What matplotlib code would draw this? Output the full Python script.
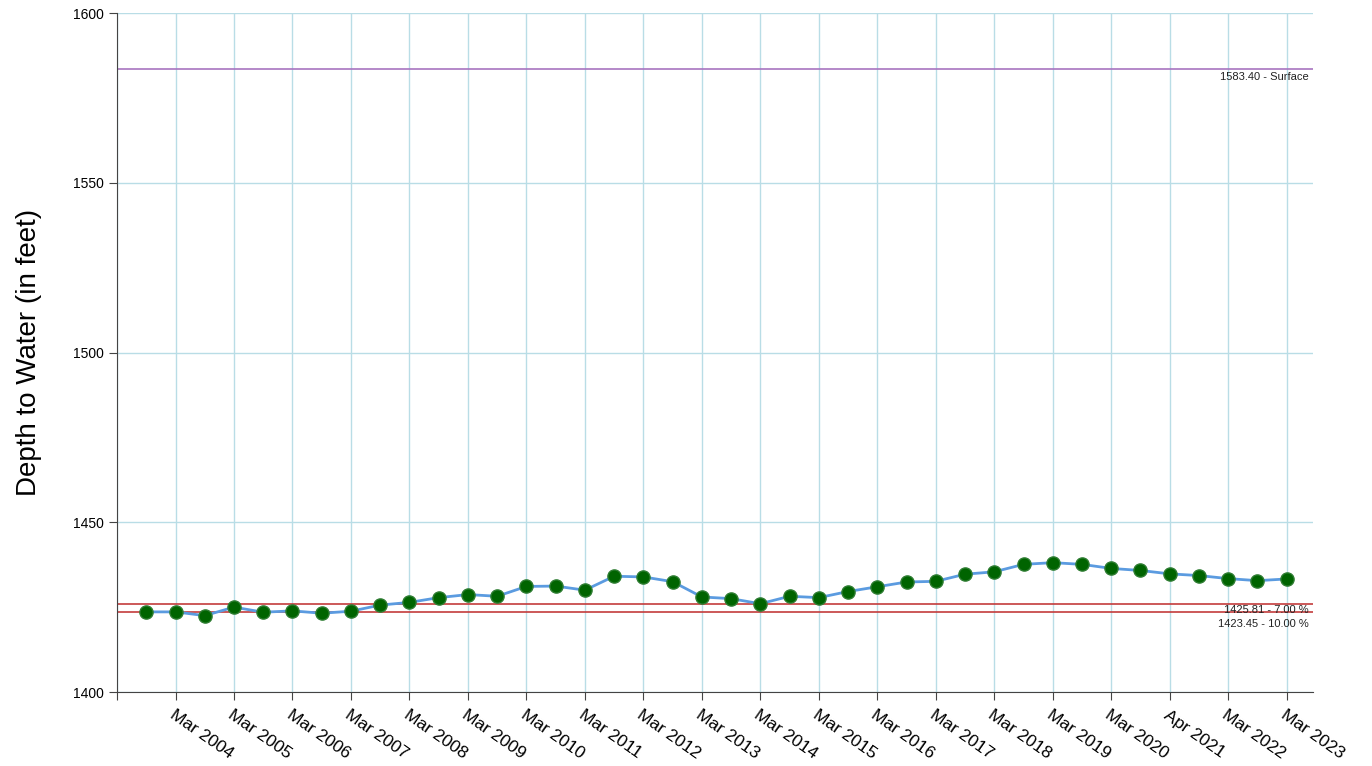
import matplotlib.pyplot as plt

plt.rcParams['font.family'] = ['Liberation Sans', 'DejaVu Sans']

# semiannual readings, depth to water (ft)
depth = [1423.6, 1423.6, 1422.5, 1425.0, 1423.5, 1423.9, 1423.2, 1423.8, 1425.6, 1426.4,
         1427.8, 1428.7, 1428.2, 1431.1, 1431.2, 1430.0, 1434.1, 1433.9, 1432.5, 1428.0,
         1427.5, 1426.0, 1428.2, 1427.8, 1429.6, 1431.0, 1432.4, 1432.6, 1434.7, 1435.4,
         1437.6, 1438.1, 1437.6, 1436.4, 1435.8, 1434.8, 1434.3, 1433.4, 1432.8, 1433.3]
x_labels = ['Mar 2004', 'Mar 2005', 'Mar 2006', 'Mar 2007', 'Mar 2008', 'Mar 2009',
            'Mar 2010', 'Mar 2011', 'Mar 2012', 'Mar 2013', 'Mar 2014', 'Mar 2015',
            'Mar 2016', 'Mar 2017', 'Mar 2018', 'Mar 2019', 'Mar 2020', 'Apr 2021',
            'Mar 2022', 'Mar 2023']
ref_values = [1583.40, 1425.81, 1423.45]
ref_labels = ['1583.40 - Surface', '1425.81 - 7.00 %', '1423.45 - 10.00 %']
ref_colors = ['#a874c0', '#c43c3c', '#c43c3c']

x = list(range(len(depth)))
tick_pos = [-1] + x[1::2]

fig = plt.figure(figsize=(13.72, 7.66), dpi=100)
ax = fig.add_axes([0.0853, 0.0966, 0.8717, 0.8864])

ax.set_xlim(-1, 39.9)
ax.set_ylim(1400, 1600)
ax.set_yticks([1400, 1450, 1500, 1550, 1600])
ax.set_xticks(tick_pos)
ax.set_xticklabels([''] + x_labels, rotation=-35, ha='left', va='top',
                   rotation_mode='anchor', fontsize=12.5)
ax.tick_params(axis='y', labelsize=10, length=6, color='#444444')
ax.tick_params(axis='x', length=6, color='#444444', pad=5)

ax.grid(True, color='#b9dde6', linewidth=1)
ax.set_axisbelow(True)
for s in ['top', 'right']:
    ax.spines[s].set_visible(False)
for s in ['left', 'bottom']:
    ax.spines[s].set_color('#444444')

# threshold lines, labels sit just under each line
for v, lab, c, dy in zip(ref_values, ref_labels, ref_colors, [-2, -0.5, -4.5]):
    ax.axhline(v, color=c, linewidth=1.2, zorder=2)
    ax.annotate(lab, xy=(1.0, v), xycoords=('axes fraction', 'data'),
                xytext=(-3, dy), textcoords='offset points',
                ha='right', va='top', fontsize=8, color='#222222')

ax.plot(x, depth, color='#5b9be0', linewidth=2, marker='o', markersize=9.5,
        markerfacecolor='#006400', markeredgecolor='#2e7d32', zorder=3)

ax.set_ylabel('Depth to Water (in feet)', fontsize=20, labelpad=22)

fig.savefig('out.png', dpi=100)
